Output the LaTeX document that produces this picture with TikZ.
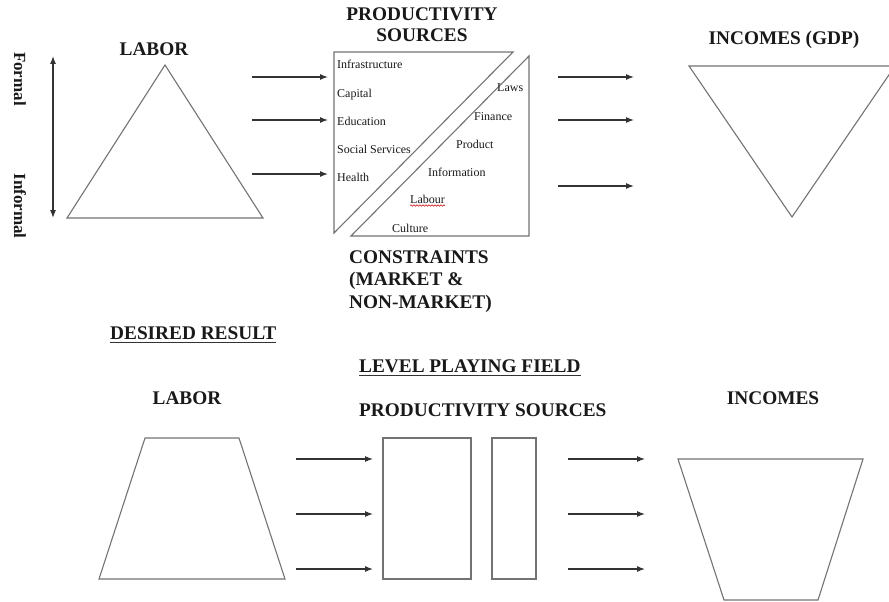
\documentclass[tikz,border=0pt]{standalone}
\usepackage{fontspec}
\setmainfont{Liberation Serif}
\usetikzlibrary{arrows.meta,decorations.pathmorphing}
\tikzset{
  shapeline/.style={draw=black!55, line width=1.1pt, line join=miter},
  flowarrow/.style={draw=black!80, line width=1.1pt, -{Latex[length=8pt,width=6pt]}},
  heading/.style={inner sep=0pt, anchor=base, font=\fontsize{19.3}{22}\selectfont\bfseries, text=black!90},
  headingL/.style={heading, anchor=base west},
  smalltxt/.style={inner sep=0pt, anchor=base west, font=\fontsize{12}{13}\selectfont, text=black!90},
  sidetxt/.style={inner sep=0pt, rotate=-90, font=\fontsize{17}{19}\selectfont\bfseries, text=black!90},
  uline/.style={draw=black!80, line width=1.6pt}
}
\begin{document}
\begin{tikzpicture}[x=1pt,y=-1pt]
\useasboundingbox (0,0) rectangle (889,602);
\clip (0,0) rectangle (889,602);
\fill[white] (0,0) rectangle (889,602);

% ---------- top row ----------
% side labels and double arrow
\node[sidetxt] (formal) at (20,79) {Formal};
\node[sidetxt] (informal) at (20,206) {Informal};
\coordinate (dtop) at (53,56);
\coordinate (dbot) at (53,218);
\draw[draw=black!80, line width=1.1pt, {Latex[length=8pt,width=6pt]}-{Latex[length=8pt,width=6pt]}] (dtop) -- (dbot);

% labor triangle
\node[heading] (labor) at (154,56) {LABOR};
\coordinate (la) at (165,65);
\coordinate (lb) at (67,218);
\coordinate (lc) at (263,218);
\draw[shapeline] (la) -- (lb) -- (lc) -- cycle;

% arrows into productivity
\foreach \i/\y in {1/77,2/120,3/174}{
  \coordinate (ls\i) at (252,\y);
  \coordinate (le\i) at (328,\y);
  \draw[flowarrow] (ls\i) -- (le\i);
}

% productivity sources block
\node[heading] (ps1) at (422,21) {PRODUCTIVITY};
\node[heading] (ps2) at (422,41.5) {SOURCES};
\coordinate (pa1) at (334,52);
\coordinate (pa2) at (513,52);
\coordinate (pa3) at (334,233);
\draw[shapeline] (pa1) -- (pa2) -- (pa3) -- cycle;
\coordinate (pb1) at (529,56);
\coordinate (pb2) at (529,236);
\coordinate (pb3) at (351,236);
\draw[shapeline] (pb1) -- (pb2) -- (pb3) -- cycle;

\node[smalltxt] (infra) at (337,69) {Infrastructure};
\node[smalltxt] (capital) at (337,97) {Capital};
\node[smalltxt] (educ) at (337,125) {Education};
\node[smalltxt] (social) at (337,153) {Social Services};
\node[smalltxt] (health) at (337,181) {Health};
\node[smalltxt] (laws) at (497,92) {Laws};
\node[smalltxt] (finance) at (474,120) {Finance};
\node[smalltxt] (product) at (456,148) {Product};
\node[smalltxt] (info) at (428,176) {Information};
\node[smalltxt] (labour) at (410,203) {Labour};
\node[smalltxt] (culture) at (392,232) {Culture};
\draw[red!80!black, line width=0.6pt, decorate, decoration={snake, amplitude=0.7pt, segment length=3pt}]
  ([yshift=-2.5pt]labour.base west) -- ([yshift=-2.5pt]labour.base east);

% constraints text
\node[headingL] (con1) at (349,263) {CONSTRAINTS};
\node[headingL] (con2) at (349,285.5) {(MARKET \&};
\node[headingL] (con3) at (349,308) {NON-MARKET)};

% arrows to incomes
\foreach \i/\y in {1/77,2/120,3/186}{
  \coordinate (rs\i) at (558,\y);
  \coordinate (re\i) at (634,\y);
  \draw[flowarrow] (rs\i) -- (re\i);
}

% incomes triangle
\node[heading] (inc) at (784,45) {INCOMES (GDP)};
\coordinate (ia) at (689,66);
\coordinate (ib) at (895,66);
\coordinate (ic) at (792,217);
\draw[shapeline] (ia) -- (ib) -- (ic) -- cycle;

% ---------- bottom row ----------
\node[headingL] (desired) at (110,339) {DESIRED RESULT};
\draw[uline] ([yshift=-3.5pt]desired.base west) -- ([yshift=-3.5pt]desired.base east);
\node[headingL] (lpf) at (359,372) {LEVEL PLAYING FIELD};
\draw[uline] ([yshift=-3.5pt]lpf.base west) -- ([yshift=-3.5pt]lpf.base east);

\node[heading] (labor2) at (187,404) {LABOR};
\node[headingL] (ps3) at (359,416) {PRODUCTIVITY SOURCES};
\node[heading] (inc2) at (773,404) {INCOMES};

% labor trapezoid
\coordinate (t1) at (145,438);
\coordinate (t2) at (239,438);
\coordinate (t3) at (285,579);
\coordinate (t4) at (99,579);
\draw[shapeline] (t1) -- (t2) -- (t3) -- (t4) -- cycle;

\foreach \i/\y in {1/459,2/514,3/569}{
  \coordinate (bs\i) at (296,\y);
  \coordinate (be\i) at (373,\y);
  \draw[flowarrow] (bs\i) -- (be\i);
}

% productivity rectangles
\coordinate (r1a) at (383,438);
\coordinate (r1b) at (471,579);
\draw[shapeline] (r1a) rectangle (r1b);
\coordinate (r2a) at (492,438);
\coordinate (r2b) at (536,579);
\draw[shapeline] (r2a) rectangle (r2b);

\foreach \i/\y in {1/459,2/514,3/569}{
  \coordinate (cs\i) at (568,\y);
  \coordinate (ce\i) at (645,\y);
  \draw[flowarrow] (cs\i) -- (ce\i);
}

% incomes trapezoid
\coordinate (u1) at (678,459);
\coordinate (u2) at (863,459);
\coordinate (u3) at (818,600);
\coordinate (u4) at (724,600);
\draw[shapeline] (u1) -- (u2) -- (u3) -- (u4) -- cycle;
\end{tikzpicture}
\end{document}
